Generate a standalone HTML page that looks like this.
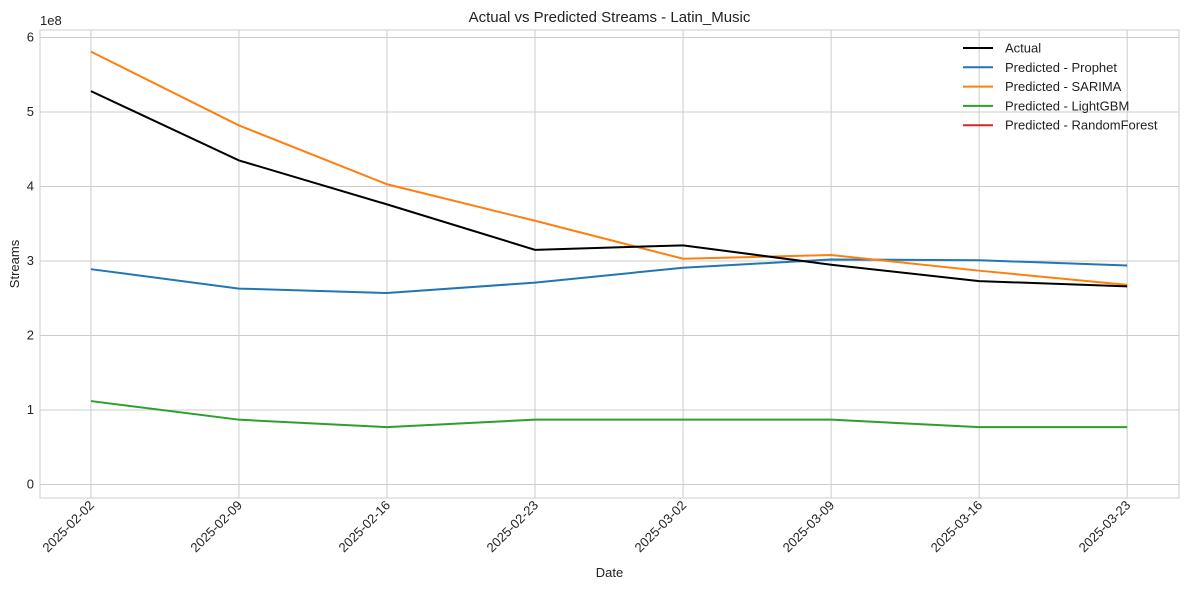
<!DOCTYPE html>
<html><head><meta charset="utf-8"><style>
body{margin:0;background:#fff;font-family:"Liberation Sans","DejaVu Sans",sans-serif;}
svg text{font-family:"Liberation Sans","DejaVu Sans",sans-serif;fill:#222;}
</style></head><body>
<svg id="chart" width="1189" height="590"></svg>
<script>
const categories=["2025-02-02","2025-02-09","2025-02-16","2025-02-23","2025-03-02","2025-03-09","2025-03-16","2025-03-23"];
const actual=[5.28,4.35,3.76,3.15,3.21,2.95,2.73,2.66];
const prophet=[2.89,2.63,2.57,2.71,2.91,3.02,3.01,2.94];
const sarima=[5.81,4.82,4.03,3.54,3.03,3.08,2.87,2.68];
const lightgbm=[1.12,0.87,0.77,0.87,0.87,0.87,0.77,0.77];
const randomforest=[];
const yTicks=[0,1,2,3,4,5,6];
const NS="http://www.w3.org/2000/svg";
const svg=document.getElementById('chart');
const L=40,R=1179,T=30,B=498;
const x=i=>L+(i+0.344)/(7.694)*(R-L);
const y=v=>484.5-v*74.5;
function el(t,a,p){const e=document.createElementNS(NS,t);for(const k in a)e.setAttribute(k,a[k]);(p||svg).appendChild(e);return e;}
const bg=el('rect',{x:L,y:T,width:R-L,height:B-T,fill:'#fff'});


yTicks.forEach(v=>{
 const g=el('line',{x1:L,x2:R,y1:y(v),y2:y(v),stroke:'#ccc','stroke-width':1});
 
 
 const t=el('text',{x:L-6,y:y(v)+4,'text-anchor':'end','font-size':13});t.textContent=v;
 
 
});
categories.forEach((c,i)=>{
 const g=el('line',{x1:x(i),x2:x(i),y1:T,y2:B,stroke:'#ccc','stroke-width':1});
 
 
 const t=el('text',{x:x(i)+4,y:B+8,'text-anchor':'end','font-size':13,transform:`rotate(-45 ${x(i)+4} ${B+8})`});t.textContent=c;
 
 
});
const fr=el('rect',{x:L,y:T,width:R-L,height:B-T,fill:'none',stroke:'#ccc'});


const series=[["Actual",actual,"#000"],["Predicted - Prophet",prophet,"#1f77b4"],["Predicted - SARIMA",sarima,"#ff7f0e"],["Predicted - LightGBM",lightgbm,"#2ca02c"],["Predicted - RandomForest",randomforest,"#d62728"]];
[4,3,1,2,0].forEach(k=>{const [n,d,c]=series[k];if(!d.length)return;
 const p=el('polyline',{points:d.map((v,i)=>x(i)+','+y(v)).join(' '),fill:'none',stroke:c,'stroke-width':2});
 
 
});
series.forEach(([n,d,c],i)=>{
 const yy=48+i*19.3;
 const l=el('line',{x1:963,x2:993,y1:yy,y2:yy,stroke:c,'stroke-width':2});
 
 
 const t=el('text',{x:1005,y:yy+4.5,'font-size':13});t.textContent=n;
 
 
});
const ti=el('text',{x:(L+R)/2,y:22,'text-anchor':'middle','font-size':15});ti.textContent="Actual vs Predicted Streams - Latin_Music";


const xt=el('text',{x:(L+R)/2,y:577,'text-anchor':'middle','font-size':13});xt.textContent="Date";


const yt=el('text',{x:19,y:264,'text-anchor':'middle','font-size':13,transform:'rotate(-90 19 264)'});yt.textContent="Streams";


const ex=el('text',{x:40,y:25,'font-size':13});ex.textContent="1e8";


</script>
</body></html>
